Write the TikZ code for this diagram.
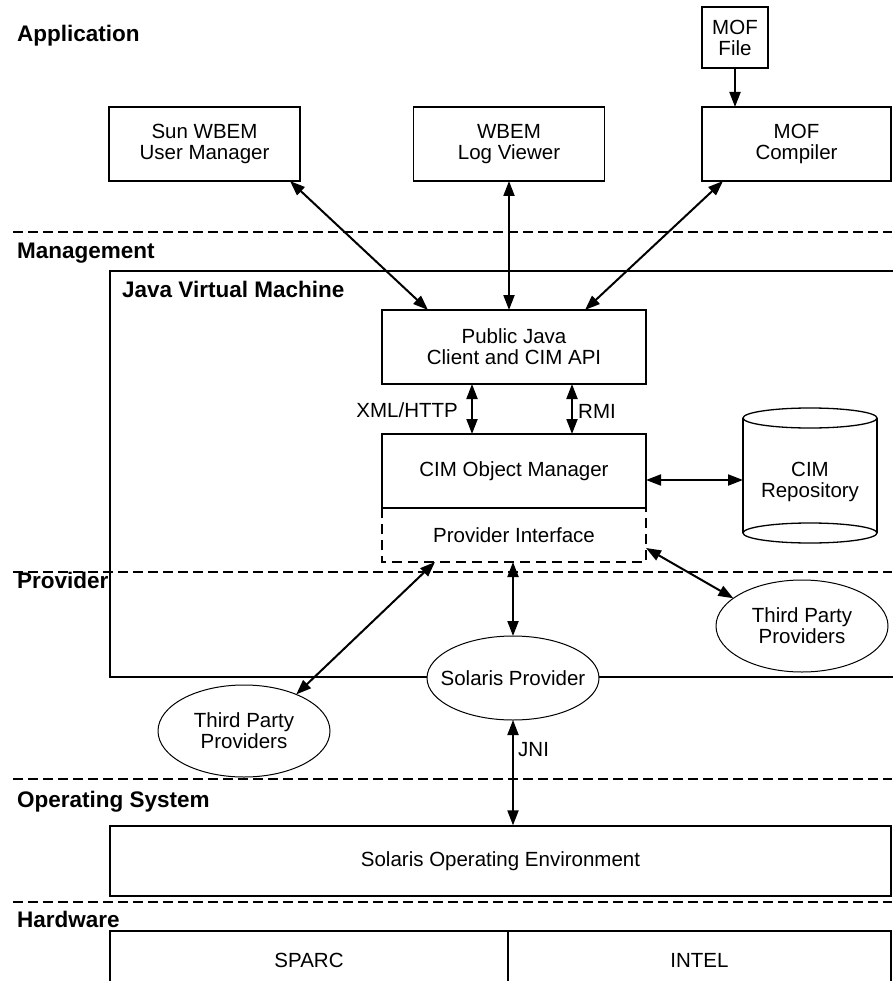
\documentclass[tikz,border=0pt]{standalone}
\usepackage{fontspec}
\setmainfont{Liberation Sans}
\usetikzlibrary{arrows.meta,shapes.geometric,calc}
\begin{document}
\begin{tikzpicture}[x=1pt,y=-1pt,
  txt/.style={font=\fontsize{20.5}{21}\selectfont, align=center},
  lbl/.style={font=\fontsize{22.5}{24}\selectfont\bfseries, anchor=base west, inner sep=0},
  box/.style={draw, line width=1.3pt, minimum width=191pt, minimum height=74pt, inner sep=0, outer sep=0, txt},
  ell/.style={draw, ellipse, line width=1pt, minimum width=172pt, minimum height=84pt, inner sep=0, outer sep=0, fill=white},
  dbl/.style={line width=2pt, {Triangle[length=15pt,width=11pt]}-{Triangle[length=15pt,width=11pt]}},
  sgl/.style={line width=2pt, -{Triangle[length=15pt,width=11pt]}},
  sep/.style={line width=2pt, dash pattern=on 9.5pt off 5.5pt},
]
\useasboundingbox (0,0) rectangle (892,981);

% layer separators
\draw[sep] (13,232) -- (892,232);
\draw[sep] (13,572) -- (892,572);
\draw[sep] (13,779) -- (892,779);
\draw[sep] (13,902) -- (892,902);

% JVM frame
\draw[line width=1.8pt] (895,271) -- (110,271) -- (110,677) -- (895,677);

% layer labels
\node[lbl] (app) at (17,42) {Application};
\node[lbl] (mgmt) at (17,259) {Management};
\node[lbl] (jvm) at (122,298) {Java Virtual Machine};
\node[lbl] (prov) at (17,588) {Provider};
\node[lbl] (ossys) at (17,807) {Operating System};
\node[lbl] (hw) at (17,927) {Hardware};

% application boxes
\node[box] (um) at (204.5,144) {Sun WBEM\\User Manager};
\node[box] (lv) at (509,144) {WBEM\\Log Viewer};
\node[box, minimum width=189pt] (mc) at (796.5,144) {MOF\\Compiler};
\node[box, minimum width=66pt, minimum height=61pt] (mf) at (735,37.5) {MOF\\File};

% management
\node[box, minimum width=264pt] (pj) at (514,347) {Public Java\\Client and CIM API};
\node[box, minimum width=264pt] (cim) at (514,471) {CIM Object Manager};
\node[txt, minimum width=264pt, minimum height=54pt, inner sep=0, outer sep=0] (pi) at (514,535) {Provider Interface};
\draw[line width=1.3pt, dash pattern=on 10pt off 6pt] (pi.north west) -- (pi.south west) -- (pi.south east) -- (pi.north east);

% repository cylinder
\node[minimum width=134pt, minimum height=115pt, inner sep=0, outer sep=0] (rep) at (810,475.5) {};
\draw[line width=1.3pt] (rep.north west) -- (rep.south west);
\draw[line width=1.3pt] (rep.north east) -- (rep.south east);
\draw[line width=1.3pt] (rep.north) ellipse [x radius=67pt, y radius=10pt];
\draw[line width=1.3pt] (rep.south) ellipse [x radius=67pt, y radius=10pt];
\node[txt] (reptxt) at ([yshift=-6pt]rep.center) {CIM\\Repository};

% providers
\node[ell, minimum height=92pt] (tpr) at (802,626) {};
\node[txt] (tprtxt) at (tpr) {Third Party\\Providers};
\node[ell, minimum height=92pt] (tpl) at (244,731) {};
\node[txt] (tpltxt) at (tpl) {Third Party\\Providers};
\node[ell] (sp) at (513,678) {};
\node[txt] (sptxt) at (sp) {Solaris Provider};

% OS and hardware
\node[draw, line width=1.3pt, minimum width=781pt, minimum height=70pt, inner sep=0, txt] (os) at (500.5,861) {Solaris Operating Environment};
\node[draw, line width=1.3pt, minimum width=398pt, minimum height=59pt, inner sep=0, txt] (sparc) at (309,960.5) {SPARC};
\node[draw, line width=1.3pt, minimum width=383pt, minimum height=59pt, inner sep=0, txt] (intel) at (699.5,960.5) {INTEL};

% arrow labels
\node[txt, anchor=east, inner sep=0] (xml) at (458,410) {XML/HTTP};
\node[txt, anchor=west, inner sep=0] (rmi) at (578,411) {RMI};
\node[txt, anchor=west, inner sep=0] (jni) at (518,750) {JNI};

% connectors
\draw[dbl] ([xshift=-10pt]um.south east) -- ([xshift=46pt]pj.north west);
\draw[dbl] (lv.south) -- (lv.south |- pj.north);
\draw[dbl] ([xshift=21pt]mc.south west) -- ([xshift=-61pt]pj.north east);
\draw[sgl] (mf.south) -- (mf.south |- mc.north);
\draw[dbl] ([xshift=-42pt]pj.south) -- ([xshift=-42pt]cim.north);
\draw[dbl] ([xshift=58pt]pj.south) -- ([xshift=58pt]cim.north);
\draw[dbl] ([yshift=-9pt]cim.east) -- ([yshift=-9pt]cim.east -| rep.west);
\draw[dbl] ([yshift=-13pt]pi.east) -- (tpr.158);
\draw[dbl] ([xshift=53pt]pi.south west) -- (tpl.35);
\draw[dbl] (pi.south -| sp.north) -- (sp.north);
\draw[dbl] (sp.south) -- (sp.south |- os.north);
\end{tikzpicture}
\end{document}
